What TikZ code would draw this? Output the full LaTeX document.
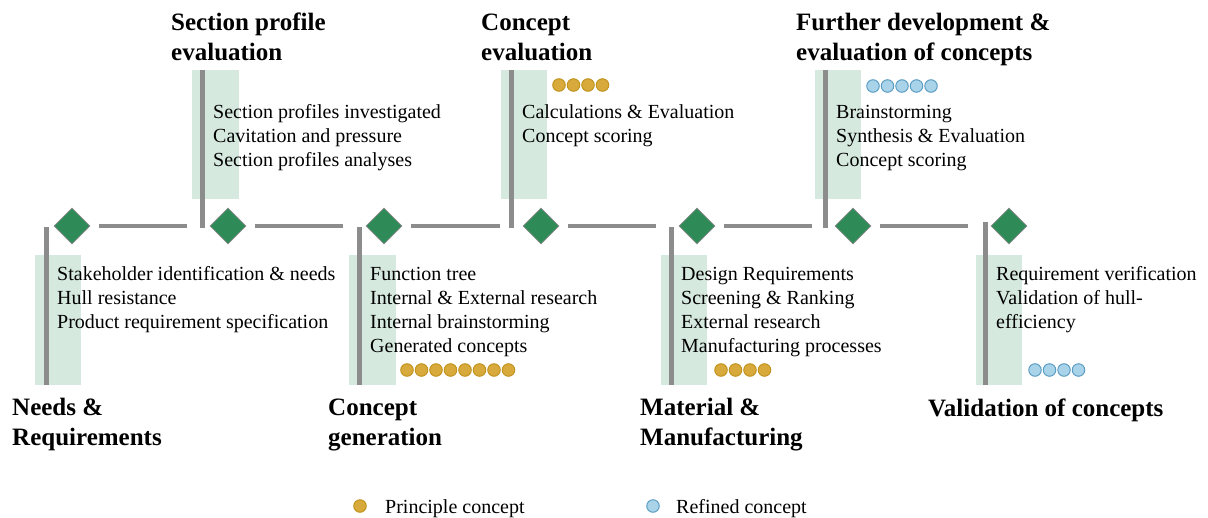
\documentclass[tikz,border=0pt]{standalone}
\usepackage{fontspec}
\setmainfont{Liberation Serif}
\usetikzlibrary{shapes.geometric}
\definecolor{dgreen}{HTML}{2E8B57}
\definecolor{mint}{HTML}{D6E9DF}
\definecolor{bargray}{HTML}{8C8C8C}
\definecolor{goldf}{HTML}{D8AA3C}
\definecolor{goldd}{HTML}{C1931F}
\definecolor{bluef}{HTML}{A9D3E8}
\definecolor{blued}{HTML}{5B9CC4}
\newcommand\stagetext[4]{\foreach \ln [count=\k from 0] in {#4} {\node[body] (#1-\k) at (#2, #3+24*\k) {\ln};}}
\newcommand\dotrow[6]{\foreach \k in {1,...,#5} {\node[#6] (#1-\k) at (#2+14.5*\k-14.5, #3) {};}}
\begin{document}
\begin{tikzpicture}[x=1pt,y=-1pt,
  dia/.style={diamond, draw=bargray, line width=0.6pt, fill=dgreen, minimum width=36pt, minimum height=36pt, inner sep=0pt},
  conn/.style={draw=bargray, line width=4.5pt, shorten <=9pt, shorten >=23pt},
  bar/.style={draw=bargray, line width=5pt},
  shade/.style={fill=mint},
  body/.style={font=\fontsize{20}{24}\selectfont, anchor=base west, inner sep=0pt},
  title/.style={font=\fontsize{25}{30}\selectfont\bfseries, anchor=base west, inner sep=0pt},
  pdot/.style={circle, fill=goldf, draw=goldd, line width=1pt, minimum size=12.5pt, inner sep=0pt},
  rdot/.style={circle, fill=bluef, draw=blued, line width=1pt, minimum size=12.5pt, inner sep=0pt}]
\useasboundingbox (0,0) rectangle (1208,517);

% shaded bands
\fill[shade] (35,255) rectangle (81,385);
\fill[shade] (192,70) rectangle (239,199);
\fill[shade] (349,255) rectangle (396,385);
\fill[shade] (501,70) rectangle (547,199);
\fill[shade] (661,255) rectangle (707,385);
\fill[shade] (815,70) rectangle (861,199);
\fill[shade] (976,255) rectangle (1022,385);

% vertical bars
\draw[bar] (46,227) -- (46,385);
\draw[bar] (202,70) -- (202,228);
\draw[bar] (359,227) -- (359,385);
\draw[bar] (511,70) -- (511,228);
\draw[bar] (671,227) -- (671,385);
\draw[bar] (825,70) -- (825,228);
\draw[bar] (985,222) -- (985,385);

% diamonds
\node[dia] (d1) at (72,226) {};
\node[dia] (d2) at (228,226) {};
\node[dia] (d3) at (384,226) {};
\node[dia] (d4) at (541,226) {};
\node[dia] (d5) at (697,226) {};
\node[dia] (d6) at (853,226) {};
\node[dia] (d7) at (1009,226) {};

% connectors
\draw[conn] (d1) -- (d2);
\draw[conn] (d2) -- (d3);
\draw[conn] (d3) -- (d4);
\draw[conn] (d4) -- (d5);
\draw[conn] (d5) -- (d6);
\draw[conn] (d6) -- (d7);

% titles
\node[title] (t1a) at (12,415) {Needs \&};
\node[title] (t1b) at (12,445) {Requirements};
\node[title] (t2a) at (171,30) {Section profile};
\node[title] (t2b) at (171,60) {evaluation};
\node[title] (t3a) at (328,415) {Concept};
\node[title] (t3b) at (328,445) {generation};
\node[title] (t4a) at (481,30) {Concept};
\node[title] (t4b) at (481,60) {evaluation};
\node[title] (t5a) at (640,415) {Material \&};
\node[title] (t5b) at (640,445) {Manufacturing};
\node[title] (t6a) at (796,30) {Further development \&};
\node[title] (t6b) at (796,60) {evaluation of concepts};
\node[title] (t7a) at (928,416) {Validation of concepts};

% body texts
\stagetext{s1}{57}{280}{{Stakeholder identification \& needs},{Hull resistance},{Product requirement specification}}
\stagetext{s2}{213}{118}{{Section profiles investigated},{Cavitation and pressure},{Section profiles analyses}}
\stagetext{s3}{370}{280}{{Function tree},{Internal \& External research},{Internal brainstorming},{Generated concepts}}
\stagetext{s4}{522}{118}{{Calculations \& Evaluation},{Concept scoring}}
\stagetext{s5}{681}{280}{{Design Requirements},{Screening \& Ranking},{External research},{Manufacturing processes}}
\stagetext{s6}{836}{118}{{Brainstorming},{Synthesis \& Evaluation},{Concept scoring}}
\stagetext{s7}{996}{280}{{Requirement verification},{Validation of hull-},{efficiency}}

% dots
\dotrow{p4}{559}{85}{}{4}{pdot}
\dotrow{p3}{407}{370}{}{8}{pdot}
\dotrow{p5}{721}{370}{}{4}{pdot}
\dotrow{r6}{873}{86}{}{5}{rdot}
\dotrow{r7}{1035}{370}{}{4}{rdot}

% legend
\node[pdot] (lp) at (360,506) {};
\node[body] (lpt) at (385,513) {Principle concept};
\node[rdot] (lr) at (653,506) {};
\node[body] (lrt) at (676,513) {Refined concept};
\end{tikzpicture}
\end{document}
